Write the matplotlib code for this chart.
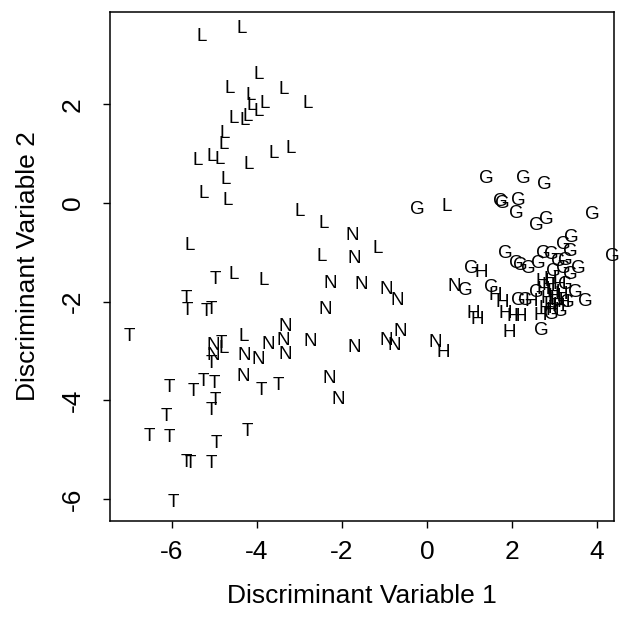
import matplotlib
matplotlib.use("Agg")
import matplotlib.pyplot as plt

plt.rcParams['font.family'] = ['Liberation Sans', 'DejaVu Sans']

# Discriminant scores per group (x = DV1, y = DV2)
L_x = [-5.30, -4.35, -3.97, -4.64, -3.38, -2.82, -3.81, -4.16, -4.12, -3.97, -4.56, -4.30,
       -4.21, -4.75, -4.79, -5.40, -5.07, -4.87, -4.20, -3.60, -3.20, -4.73, -5.26, -4.69,
       -2.99, -2.44, -5.58, -2.48, -1.17, -4.56, -3.84, -4.32, 0.46, -4.78]
L_y = [3.37, 3.54, 2.60, 2.33, 2.31, 2.01, 2.02, 2.19, 1.97, 1.85, 1.72, 1.68,
       1.76, 1.41, 1.18, 0.87, 0.94, 0.89, 0.79, 1.01, 1.11, 0.48, 0.20, 0.06,
       -0.18, -0.41, -0.87, -1.09, -0.92, -1.46, -1.58, -2.71, -0.08, -2.96]

T_x = [-4.99, -5.67, -5.64, -5.20, -5.08, -7.00, -4.83, -5.07, -5.26, -5.01, -6.06, -5.51,
       -3.91, -3.51, -4.99, -5.08, -6.14, -6.53, -6.06, -4.24, -4.96, -5.67, -5.56, -5.08, -5.97]
T_y = [-1.56, -1.93, -2.18, -2.20, -2.15, -2.71, -2.85, -3.25, -3.62, -3.67, -3.75, -3.83,
       -3.81, -3.71, -4.01, -4.20, -4.32, -4.74, -4.75, -4.64, -4.87, -5.27, -5.28, -5.29, -6.08]

N_x = [-1.75, -1.71, -2.28, -1.54, -0.95, -0.71, -2.40, -3.34, -2.75, -3.38, -3.34, -3.73,
       -1.71, -5.03, -5.03, -4.30, -3.97, -4.32, -0.62, -0.95, -0.77, 0.19, 0.64, -2.30, -2.08]
N_y = [-0.65, -1.12, -1.63, -1.66, -1.75, -1.97, -2.15, -2.51, -2.80, -2.78, -3.08, -2.86,
       -2.93, -2.88, -3.10, -3.10, -3.18, -3.52, -2.60, -2.78, -2.88, -2.83, -1.69, -3.55, -3.98]

H_x = [1.27, 1.08, 1.17, 0.38, 1.60, 1.78, 1.84, 2.03, 2.19, 1.94, 2.46, 2.70, 2.74, 2.82,
       2.89, 2.96, 3.04, 3.11, 3.15, 2.78, 2.94, 3.08, 2.85, 3.20, 2.66, 2.90, 3.00]
H_y = [-1.41, -2.25, -2.37, -3.04, -1.88, -2.02, -2.25, -2.31, -2.31, -2.63, -2.00, -1.60, -1.76, -1.93,
       -2.07, -1.81, -1.97, -1.66, -1.85, -2.13, -2.19, -2.09, -1.68, -2.01, -2.29, -1.55, -1.90]

G_x = [1.39, 2.27, 2.75, -0.23, 1.72, 1.76, 2.15, 2.11, 2.56, 2.80, 3.88, 3.40, 3.21, 3.36,
       4.35, 1.84, 2.11, 2.19, 2.38, 2.62, 2.74, 2.93, 3.09, 3.25, 3.56, 2.97, 3.21, 1.05,
       0.89, 1.52, 2.15, 2.31, 2.70, 3.48, 3.72, 3.29, 3.13, 2.93, 3.25, 3.36, 2.56]
G_y = [0.50, 0.50, 0.38, -0.14, 0.03, -0.01, 0.06, -0.22, -0.45, -0.33, -0.24, -0.70, -0.85, -0.99,
       -1.09, -1.02, -1.22, -1.26, -1.32, -1.22, -1.02, -1.05, -1.19, -1.16, -1.32, -1.39, -1.32, -1.32,
       -1.78, -1.71, -1.97, -1.97, -2.58, -1.82, -2.00, -2.02, -2.20, -2.27, -1.66, -1.46, -1.81]

groups = [("L", L_x, L_y), ("T", T_x, T_y), ("N", N_x, N_y), ("H", H_x, H_y), ("G", G_x, G_y)]

xticks = [-6, -4, -2, 0, 2, 4]
yticks = [-6, -4, -2, 0, 2]

fig = plt.figure(figsize=(6.29, 6.26), dpi=100)
ax = fig.add_axes([0.1749, 0.1677, 0.8013, 0.8131])
ax.set_xlim(-7.46, 4.40)
ax.set_ylim(-6.45, 3.874)

for lab, xs, ys in groups:
    for x, y in zip(xs, ys):
        ax.text(x, y, lab, ha='center', va='center', fontsize=13.5, color='black')

ax.set_xticks(xticks)
ax.set_yticks(yticks)
ax.set_xticklabels([str(v) for v in xticks], fontsize=19)
ax.set_yticklabels([str(v) for v in yticks], fontsize=19, rotation=90, va='center')
ax.tick_params(axis='x', direction='out', length=5, width=1, pad=9)
ax.tick_params(axis='y', direction='out', length=5, width=1, pad=13)
for s in ax.spines.values():
    s.set_linewidth(1.1)
ax.set_xlabel("Discriminant Variable 1", fontsize=19, labelpad=14)
ax.set_ylabel("Discriminant Variable 2", fontsize=19, labelpad=15)

fig.savefig("out.png", dpi=100)
